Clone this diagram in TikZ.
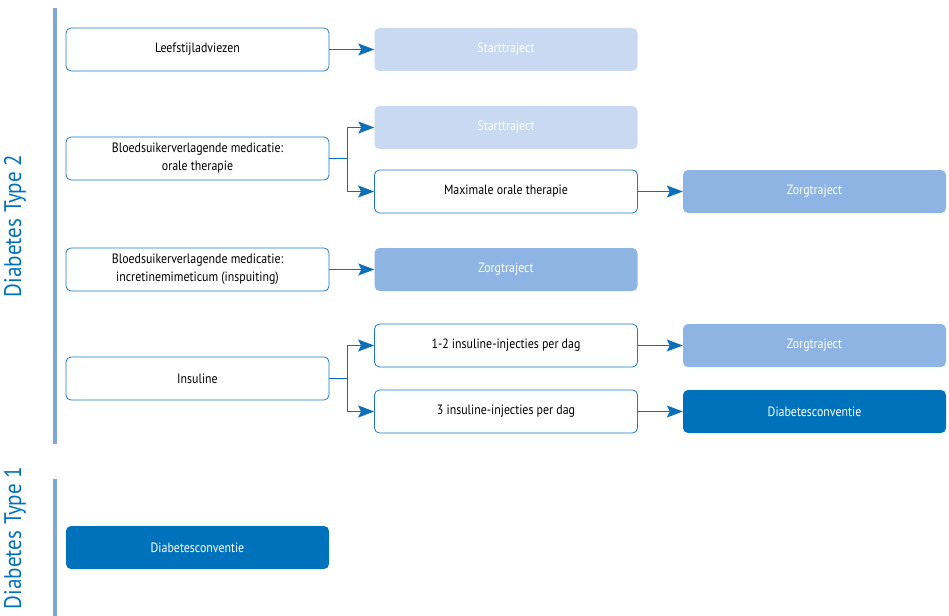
\documentclass[tikz,border=0pt]{standalone}
\usepackage{fontspec}
\setmainfont{PT Sans}[FakeStretch=0.88]
\usetikzlibrary{arrows.meta}
\definecolor{bord}{HTML}{1A7CC6}
\definecolor{arr}{HTML}{0B6FBA}
\definecolor{lite}{HTML}{C9D9F1}
\definecolor{mid}{HTML}{8DB4E2}
\definecolor{dark}{HTML}{0072BC}
\definecolor{barc}{HTML}{7BA7DB}
\tikzset{
  base/.style={rounded corners=5pt, minimum width=263pt, minimum height=43pt, align=center, font=\fontsize{13.5}{18}\selectfont, inner sep=0pt},
  wbox/.style={base, draw=bord, line width=0.8pt, fill=white, text=black},
  litebox/.style={base, fill=lite, text=white},
  midbox/.style={base, fill=mid, text=white},
  darkbox/.style={base, fill=dark, text=white},
  conn/.style={draw=arr, line width=1.1pt, -{Stealth[length=16pt,width=12pt,inset=3pt]}},
  lab/.style={text=dark, font=\fontsize{24}{28}\selectfont, rotate=90},
  barline/.style={draw=barc, line width=4.5pt}
}
\begin{document}
\begin{tikzpicture}[x=1pt,y=-1pt]
\useasboundingbox (0,0) rectangle (949,615);
% bars
\coordinate (b2t) at (55,8);
\coordinate (b2b) at (55,444);
\coordinate (b1t) at (55,479);
\coordinate (b1b) at (55,620);
\draw[barline] (b2t) -- (b2b);
\draw[barline] (b1t) -- (b1b);
\node[lab] (t2) at (15,226) {Diabetes Type 2};
\node[lab] (t1) at (15,538) {Diabetes Type 1};
% column 1
\node[wbox] (a1) at (197.5,49.5) {Leefstijladviezen};
\node[wbox] (a2) at (197.5,158.5) {Bloedsuikerverlagende medicatie:\\orale therapie};
\node[wbox] (a3) at (197.5,269.5) {Bloedsuikerverlagende medicatie:\\incretinemimeticum (inspuiting)};
\node[wbox] (a4) at (197.5,378.5) {Insuline};
\node[darkbox] (a5) at (197.5,547.5) {Diabetesconventie};
% column 2
\node[litebox] (b1) at (506,49.5) {Starttraject};
\node[litebox] (b2) at (506,127.5) {Starttraject};
\node[wbox] (b3) at (506,191.5) {Maximale orale therapie};
\node[midbox] (b4) at (506,269.5) {Zorgtraject};
\node[wbox] (b5) at (506,345.5) {1-2 insuline-injecties per dag};
\node[wbox] (b6) at (506,411.5) {3 insuline-injecties per dag};
% column 3
\node[midbox] (c1) at (814.5,191.5) {Zorgtraject};
\node[midbox] (c2) at (814.5,345.5) {Zorgtraject};
\node[darkbox] (c3) at (814.5,411.5) {Diabetesconventie};
% connectors
\draw[conn] (a1.east) -- (b1.west);
\draw[conn] (a2.east) -- ++(18,0) |- (b2.west);
\draw[conn] (a2.east) -- ++(18,0) |- (b3.west);
\draw[conn] (a3.east) -- (b4.west);
\draw[conn] (a4.east) -- ++(18,0) |- (b5.west);
\draw[conn] (a4.east) -- ++(18,0) |- (b6.west);
\draw[conn] (b3.east) -- (c1.west);
\draw[conn] (b5.east) -- (c2.west);
\draw[conn] (b6.east) -- (c3.west);
\end{tikzpicture}
\end{document}
